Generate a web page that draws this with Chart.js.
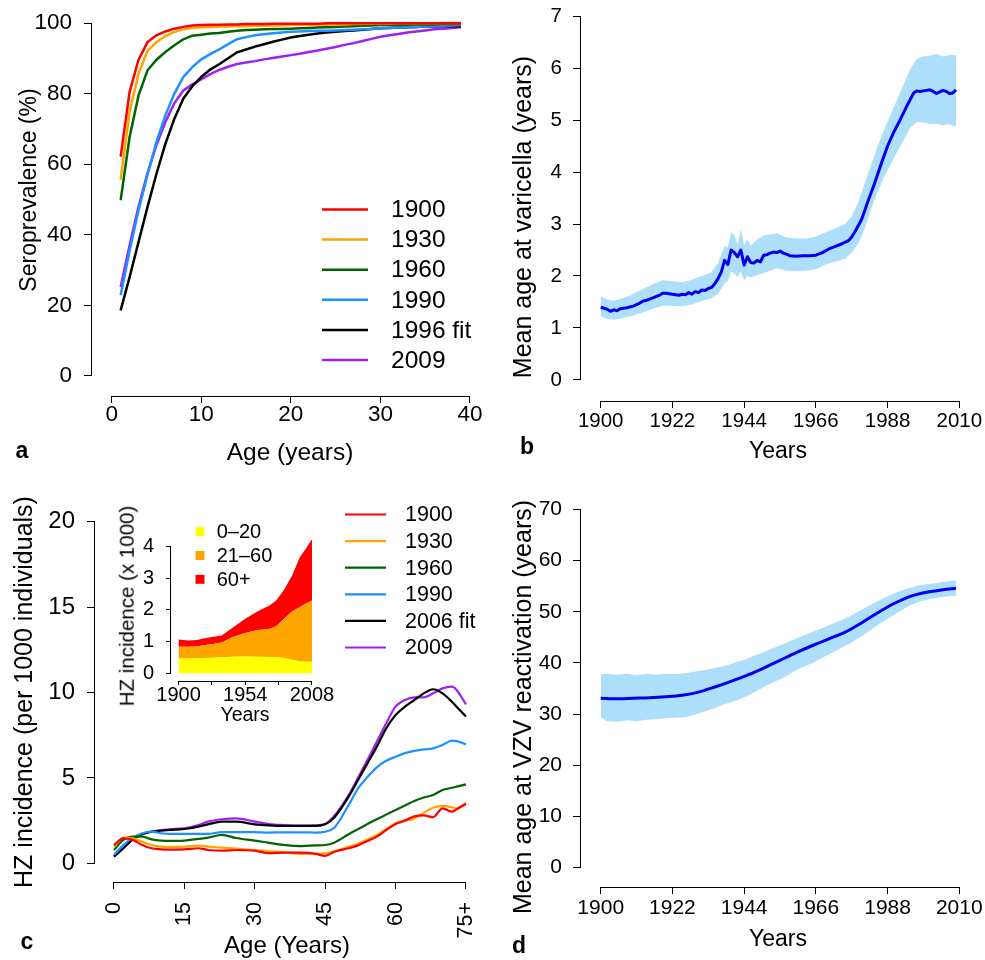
<!DOCTYPE html>
<html>
<head>
<meta charset="utf-8">
<title>Varicella and herpes zoster</title>
<script src="https://cdn.jsdelivr.net/npm/chart.js@4.4.1/dist/chart.umd.min.js"></script>
<style>
  body { margin: 0; background: #fff; }
  #fig { position: relative; width: 985px; height: 960px; font-family: "Liberation Sans", Arial, Helvetica, sans-serif; color: #000; overflow: hidden; }
  #fig canvas { position: absolute; }
  .lab { position: absolute; white-space: nowrap; line-height: 1; transform: translate(-50%, -50%); }
  .lab.up { transform: translate(-50%, -50%) rotate(-90deg); }
  .tag { font-weight: bold; }
</style>
</head>
<body>
<div id="fig">
  <canvas id="sero" width="495" height="470" style="left:0;top:0"></canvas>
  <canvas id="varAge" width="485" height="470" style="left:500px;top:0"></canvas>
  <canvas id="hz" width="495" height="480" style="left:0;top:480px"></canvas>
  <canvas id="hzTotal" width="245" height="225" style="left:100px;top:500px"></canvas>
  <canvas id="reactAge" width="485" height="480" style="left:500px;top:480px"></canvas>

  <div class="lab up" style="left:28px;top:190px;font-size:23px">Seroprevalence (%)</div>
  <div class="lab" style="left:290px;top:452px;font-size:24.5px">Age (years)</div>
  <div class="lab tag" style="left:22px;top:450px;font-size:23px">a</div>

  <div class="lab up" style="left:522px;top:217px;font-size:25px">Mean age at varicella (years)</div>
  <div class="lab" style="left:778px;top:450px;font-size:23px">Years</div>
  <div class="lab tag" style="left:527px;top:446px;font-size:23px">b</div>

  <div class="lab up" style="left:23px;top:692px;font-size:25px">HZ incidence (per 1000 individuals)</div>
  <div class="lab" style="left:287px;top:945px;font-size:24px">Age (Years)</div>
  <div class="lab tag" style="left:27px;top:941px;font-size:23px">c</div>
  <div class="lab up" style="left:127px;top:606px;font-size:20.5px">HZ incidence (x 1000)</div>
  <div class="lab" style="left:245px;top:715px;font-size:19.5px">Years</div>

  <div class="lab up" style="left:522px;top:707px;font-size:25px">Mean age at VZV reactivation (years)</div>
  <div class="lab" style="left:778px;top:938px;font-size:23px">Years</div>
  <div class="lab tag" style="left:519px;top:945px;font-size:23px">d</div>
</div>

<script>
// ---- a: seroprevalence by age ----
const seroAges = [1, 2, 3, 4, 5, 6, 7, 8, 9, 10, 11, 12, 13, 14, 15, 16, 17, 18, 19, 20,
  21, 22, 23, 24, 25, 26, 27, 28, 29, 30, 31, 32, 33, 34, 35, 36, 37, 38, 39];
const sero1900 = [62.1, 80.5, 89.6, 94.6, 96.5, 97.6, 98.4, 98.9, 99.3, 99.4,
  99.5, 99.5, 99.6, 99.6, 99.7, 99.7, 99.7, 99.8, 99.8, 99.8,
  99.8, 99.8, 99.8, 99.9, 99.9, 99.9, 99.9, 99.9, 99.9, 99.9,
  99.9, 99.9, 99.9, 99.9, 99.9, 99.9, 99.9, 99.9, 99.9];
const sero1930 = [55.6, 74.8, 85.7, 92.1, 94.6, 96.3, 97.5, 98.2, 98.6, 98.8,
  98.9, 99.0, 99.0, 99.1, 99.1, 99.2, 99.2, 99.3, 99.3, 99.4,
  99.4, 99.5, 99.5, 99.5, 99.6, 99.6, 99.7, 99.7, 99.8, 99.8,
  99.8, 99.9, 99.9, 99.9, 99.9, 99.9, 100, 100, 100];
const sero1960 = [49.8, 67.7, 79.5, 86.6, 89.6, 91.8, 93.7, 95.4, 96.4, 96.7,
  97.0, 97.2, 97.5, 97.8, 98.0, 98.1, 98.2, 98.3, 98.3, 98.4,
  98.5, 98.6, 98.7, 98.8, 98.9, 99.0, 99.1, 99.2, 99.3, 99.4,
  99.4, 99.5, 99.5, 99.6, 99.6, 99.6, 99.7, 99.7, 99.7];
const sero1990 = [22.9, 35.5, 47.0, 57.0, 66.3, 73.9, 80.0, 84.7, 87.5, 89.7,
  91.2, 92.5, 94.0, 95.4, 96.0, 96.5, 96.8, 97.1, 97.3, 97.5,
  97.6, 97.7, 97.8, 97.8, 97.9, 98.0, 98.1, 98.2, 98.3, 98.5,
  98.6, 98.7, 98.8, 98.9, 99.0, 99.1, 99.2, 99.3, 99.4];
const sero1996fit = [18.6, 28.0, 38.0, 47.9, 57.3, 65.8, 72.9, 78.6, 82.1, 84.7,
  86.8, 88.3, 90.0, 91.7, 92.5, 93.3, 94.0, 94.7, 95.3, 95.9,
  96.3, 96.7, 97.0, 97.3, 97.5, 97.7, 97.9, 98.1, 98.3, 98.5,
  98.6, 98.7, 98.8, 98.9, 99.0, 99.0, 99.1, 99.1, 99.1];
const sero2009 = [25.2, 37.0, 48.0, 57.5, 65.4, 72.0, 77.3, 80.9, 82.6, 84.0,
  85.5, 86.7, 87.6, 88.4, 88.8, 89.2, 89.7, 90.1, 90.5, 90.9,
  91.3, 91.8, 92.2, 92.7, 93.2, 93.8, 94.3, 94.9, 95.5, 96.1,
  96.5, 96.9, 97.3, 97.6, 97.9, 98.2, 98.4, 98.6, 98.8];
const seroTicksX = [0, 10, 20, 30, 40];
const seroTicksY = [0, 20, 40, 60, 80, 100];

// ---- b: mean age at varicella ----
const varYears = [1900, 1901, 1902, 1903, 1904, 1905, 1906, 1907, 1908, 1910, 1912, 1913, 1914, 1916,
  1918, 1919, 1920, 1922, 1924, 1925, 1926, 1927, 1928, 1929, 1930, 1931, 1932, 1933, 1934, 1935,
  1936, 1937, 1938, 1939, 1940, 1941, 1942, 1943, 1944, 1945, 1946, 1947, 1948, 1949, 1950, 1951,
  1952, 1953, 1954, 1955, 1956, 1957, 1958, 1960, 1962, 1964, 1966, 1968, 1970, 1972, 1974, 1976,
  1977, 1978, 1980, 1982, 1984, 1986, 1988, 1990, 1992, 1994, 1996, 1997, 1998, 1999, 2000, 2001,
  2002, 2003, 2004, 2005, 2006, 2007, 2008, 2009];
const varMean = [1.40, 1.38, 1.36, 1.32, 1.35, 1.33, 1.37, 1.38, 1.39, 1.42, 1.48, 1.52, 1.53, 1.58,
  1.63, 1.67, 1.67, 1.65, 1.63, 1.65, 1.64, 1.68, 1.65, 1.70, 1.68, 1.73, 1.72, 1.76, 1.78, 1.85,
  1.95, 2.08, 2.30, 2.22, 2.50, 2.45, 2.37, 2.50, 2.21, 2.37, 2.26, 2.25, 2.30, 2.27, 2.40, 2.41,
  2.44, 2.46, 2.45, 2.48, 2.44, 2.42, 2.39, 2.38, 2.39, 2.39, 2.40, 2.45, 2.52, 2.57, 2.62, 2.68,
  2.75, 2.85, 3.08, 3.44, 3.78, 4.15, 4.50, 4.78, 5.02, 5.28, 5.52, 5.56, 5.55, 5.56, 5.57, 5.58,
  5.55, 5.51, 5.54, 5.57, 5.55, 5.51, 5.52, 5.58];
const varBandYears = [1900, 1902, 1904, 1906, 1908, 1910, 1913, 1916, 1919, 1922, 1925, 1928, 1931,
  1934, 1936, 1938, 1939, 1940, 1941, 1942, 1943, 1944, 1945, 1946, 1948, 1950, 1952, 1954, 1957,
  1960, 1963, 1966, 1969, 1972, 1975, 1977, 1979, 1981, 1983, 1985, 1987, 1989, 1991, 1993, 1995,
  1997, 1999, 2001, 2003, 2005, 2007, 2009];
const varUpper = [1.60, 1.55, 1.52, 1.56, 1.60, 1.66, 1.75, 1.84, 1.92, 1.90, 1.88, 1.93, 2.00,
  2.07, 2.25, 2.58, 2.55, 2.85, 2.78, 2.60, 2.90, 2.60, 2.70, 2.58, 2.70, 2.78, 2.80, 2.82, 2.74,
  2.72, 2.72, 2.76, 2.84, 2.92, 3.00, 3.15, 3.42, 3.78, 4.15, 4.50, 4.82, 5.12, 5.40, 5.70, 5.98,
  6.18, 6.22, 6.24, 6.27, 6.22, 6.25, 6.25];
const varLower = [1.22, 1.18, 1.16, 1.18, 1.21, 1.24, 1.30, 1.37, 1.43, 1.43, 1.42, 1.45, 1.52,
  1.57, 1.66, 1.86, 1.90, 2.08, 2.05, 1.98, 2.08, 1.92, 2.00, 1.97, 2.02, 2.06, 2.10, 2.15, 2.10,
  2.09, 2.10, 2.13, 2.22, 2.28, 2.33, 2.45, 2.62, 2.92, 3.30, 3.62, 3.92, 4.15, 4.40, 4.62, 4.85,
  4.96, 4.95, 4.92, 4.93, 4.90, 4.92, 4.87];
const yearTicks = [1900, 1922, 1944, 1966, 1988, 2010];
const varTicksY = [0, 1, 2, 3, 4, 5, 6, 7];

// ---- c: HZ incidence by age ----
const hzAges = [0, 2, 4, 6, 8, 10, 12, 15, 18, 20, 23, 26, 30, 33, 36, 40, 43, 45, 47, 50,
  52, 54, 56, 58, 60, 62, 64, 66, 68, 70, 72, 73, 75];
const hz1900 = [1.07, 1.46, 1.37, 1.07, 0.88, 0.82, 0.80, 0.82, 0.88, 0.78, 0.74, 0.78, 0.74, 0.59,
  0.62, 0.62, 0.55, 0.43, 0.68, 0.88, 1.05, 1.30, 1.56, 1.95, 2.30, 2.50, 2.75, 2.80, 2.70, 3.22,
  3.02, 3.16, 3.47];
const hz1930 = [0.98, 1.50, 1.46, 1.27, 1.07, 0.98, 0.96, 0.98, 1.03, 0.98, 0.92, 0.86, 0.78, 0.72,
  0.66, 0.55, 0.57, 0.59, 0.70, 0.98, 1.15, 1.40, 1.66, 2.00, 2.34, 2.48, 2.62, 2.95, 3.25, 3.36,
  3.28, 3.22, 3.55];
const hz1960 = [0.78, 1.37, 1.56, 1.56, 1.40, 1.33, 1.31, 1.33, 1.43, 1.50, 1.66, 1.48, 1.33, 1.20,
  1.08, 1.01, 1.05, 1.07, 1.22, 1.70, 2.00, 2.30, 2.58, 2.85, 3.12, 3.38, 3.65, 3.85, 4.00, 4.29,
  4.42, 4.49, 4.62];
const hz1990 = [0.49, 1.07, 1.50, 1.76, 1.85, 1.76, 1.72, 1.72, 1.72, 1.72, 1.83, 1.83, 1.82, 1.80,
  1.81, 1.81, 1.80, 1.85, 2.10, 3.41, 4.39, 5.05, 5.62, 6.00, 6.24, 6.45, 6.58, 6.67, 6.73, 6.93,
  7.18, 7.15, 6.97];
const hz2006fit = [0.39, 0.88, 1.40, 1.70, 1.85, 1.91, 1.95, 2.01, 2.15, 2.28, 2.44, 2.44, 2.28, 2.22,
  2.19, 2.19, 2.19, 2.28, 2.70, 3.90, 4.88, 5.85, 6.83, 7.90, 8.68, 9.17, 9.56, 9.95, 10.19, 9.95,
  9.46, 9.17, 8.59];
const hz2009 = [0.39, 0.88, 1.40, 1.70, 1.85, 1.95, 2.00, 2.05, 2.24, 2.44, 2.58, 2.63, 2.44, 2.30,
  2.24, 2.20, 2.22, 2.30, 2.80, 4.00, 5.01, 6.05, 7.12, 8.20, 9.17, 9.56, 9.72, 9.72, 9.95, 10.24,
  10.34, 10.15, 9.31];
const hzTicksX = [0, 15, 30, 45, 60, 75];
const hzTickLabelsX = ['0', '15', '30', '45', '60', '75+'];
const hzTicksY = [0, 5, 10, 15, 20];

// ---- c inset: HZ cases by age group (stacked) ----
const totalYears = [1900, 1908, 1915, 1920, 1927, 1935, 1944, 1954, 1963, 1974, 1979, 1985, 1992, 1998, 2003, 2008];
const age0to20 = [0.46, 0.46, 0.47, 0.48, 0.49, 0.50, 0.52, 0.53, 0.52, 0.51, 0.51, 0.48, 0.42, 0.38, 0.36, 0.36];
const age21to60 = [0.37, 0.37, 0.37, 0.40, 0.42, 0.47, 0.62, 0.74, 0.83, 0.89, 0.97, 1.22, 1.53, 1.70, 1.84, 1.93];
const age60plus = [0.23, 0.20, 0.21, 0.21, 0.23, 0.22, 0.30, 0.45, 0.58, 0.74, 0.81, 0.91, 1.13, 1.57, 1.72, 1.94];
const totalTicksX = [1900, 1927, 1954, 1981, 2008];
const totalTickLabelsX = ['1900', '', '1954', '', '2008'];
const totalTicksY = [0, 1, 2, 3, 4];

// ---- d: mean age at VZV reactivation ----
const reactYears = [1900, 1905, 1910, 1915, 1920, 1925, 1930, 1935, 1940, 1945, 1950, 1955,
  1960, 1965, 1970, 1975, 1980, 1985, 1990, 1995, 2000, 2005, 2009];
const reactMean = [33.1, 33.0, 33.1, 33.2, 33.4, 33.7, 34.3, 35.3, 36.4, 37.6, 39.0, 40.5,
  42.0, 43.4, 44.7, 46.0, 47.8, 49.8, 51.6, 53.0, 53.8, 54.3, 54.6];
const reactBandYears = [1900, 1902, 1905, 1908, 1911, 1914, 1917, 1920, 1923, 1926, 1929, 1932,
  1935, 1938, 1941, 1944, 1947, 1950, 1953, 1956, 1959, 1962, 1965, 1968, 1971, 1974, 1977,
  1980, 1983, 1986, 1989, 1992, 1995, 1998, 2001, 2004, 2007, 2009];
const reactUpper = [37.8, 37.9, 37.7, 37.9, 37.6, 37.9, 37.7, 37.9, 37.8, 38.0, 38.3, 38.6,
  39.0, 39.4, 40.0, 40.6, 41.4, 42.1, 42.9, 43.7, 44.5, 45.3, 46.1, 46.8, 47.6, 48.4, 49.3,
  50.4, 51.4, 52.4, 53.3, 54.1, 54.7, 55.2, 55.4, 55.7, 56.0, 56.1];
const reactLower = [29.4, 28.6, 28.5, 28.8, 28.6, 28.9, 29.0, 29.2, 29.3, 29.4, 29.9, 30.5,
  31.2, 31.9, 32.5, 33.3, 34.2, 35.3, 36.2, 37.1, 38.2, 39.2, 40.0, 41.0, 42.0, 43.0, 44.0,
  45.2, 46.5, 47.8, 49.0, 50.2, 51.3, 52.0, 52.5, 52.8, 53.0, 53.1];
const reactTicksY = [0, 10, 20, 30, 40, 50, 60, 70];

const FONT = '"Liberation Sans", Arial, Helvetica, sans-serif';
const BAND = '#ADDFFA';
const MEAN = '#0000EE';

Chart.defaults.font.family = FONT;
Chart.defaults.color = '#000';
Chart.defaults.animation = false;
Chart.defaults.events = [];

const pts = (xs, ys) => xs.map((x, i) => ({ x, y: ys[i] }));

// axis line from the first tick to the last one, detached from the plot box
const axisLines = {
  id: 'axisLines',
  afterDraw(chart) {
    const { ctx, chartArea } = chart;
    ctx.save();
    ctx.strokeStyle = '#000';
    ctx.lineWidth = 1;
    Object.values(chart.scales).forEach(scale => {
      const t = scale.ticks;
      const a = Math.round(scale.getPixelForValue(t[0].value) - 0.5) + 0.5;
      const b = Math.round(scale.getPixelForValue(t[t.length - 1].value) - 0.5) + 0.5;
      ctx.beginPath();
      if (scale.isHorizontal()) {
        const y = Math.round(chartArea.bottom) + 0.5;
        ctx.moveTo(a - 0.5, y);
        ctx.lineTo(b + 0.5, y);
      } else {
        const x = Math.round(chartArea.left) + 0.5;
        ctx.moveTo(x, a + 0.5);
        ctx.lineTo(x, b - 0.5);
      }
      ctx.stroke();
    });
    ctx.restore();
  }
};

// legend placed freely inside the panel
const key = {
  id: 'key',
  afterDraw(chart, args, opts) {
    if (!opts || !opts.x) return;
    const ctx = chart.ctx;
    ctx.save();
    ctx.font = opts.size + 'px ' + FONT;
    ctx.textBaseline = 'middle';
    ctx.textAlign = 'left';
    ctx.fillStyle = '#000';
    let row = 0;
    chart.data.datasets.forEach(ds => {
      if (!ds.label) return;
      const y = opts.y + row * opts.step;
      if (opts.square) {
        ctx.fillStyle = ds.backgroundColor;
        ctx.fillRect(opts.x - opts.square / 2, y - opts.square / 2, opts.square, opts.square);
      } else {
        ctx.strokeStyle = ds.borderColor;
        ctx.lineWidth = ds.borderWidth;
        ctx.beginPath();
        ctx.moveTo(opts.x, y);
        ctx.lineTo(opts.x + opts.len, y);
        ctx.stroke();
      }
      ctx.fillStyle = '#000';
      ctx.fillText(ds.label, opts.textX, y + 1);
      row++;
    });
    ctx.restore();
  }
};

function axis(o) {
  return {
    type: 'linear',
    min: o.min,
    max: o.max,
    stacked: !!o.stacked,
    afterBuildTicks: s => { s.ticks = o.ticks.map(v => ({ value: v })); },
    afterFit: s => {
      if (s.isHorizontal()) {
        s.height = o.box;
        s.paddingLeft = s.paddingRight = 0;
      } else {
        s.width = o.box;
        s.paddingTop = s.paddingBottom = 0;
      }
    },
    ticks: {
      autoSkip: false,
      maxRotation: o.rot || 0,
      minRotation: o.rot || 0,
      padding: o.pad,
      color: '#000',
      font: { size: o.size, lineHeight: 1 },
      callback: (v, i) => o.labels ? o.labels[i] : String(v)
    },
    grid: { drawOnChartArea: false, drawTicks: true, tickLength: o.tick || 7, color: '#000', lineWidth: 1 },
    border: { display: false }
  };
}

function baseOptions(pad, x, y, keyOpts) {
  return {
    responsive: false,
    devicePixelRatio: 1,
    layout: { padding: pad },
    elements: { point: { radius: 0 } },
    plugins: { legend: { display: false }, tooltip: { enabled: false }, key: keyOpts || {} },
    scales: { x, y }
  };
}

function curve(label, xs, ys, color, width, smooth) {
  return {
    label, data: pts(xs, ys), borderColor: color, borderWidth: width,
    tension: 0, cubicInterpolationMode: smooth ? 'monotone' : 'default', fill: false
  };
}

// a
new Chart(document.getElementById('sero'), {
  type: 'line',
  data: {
    datasets: [
      curve('1900', seroAges, sero1900, '#FF0000', 2.5),
      curve('1930', seroAges, sero1930, '#FFA500', 2.5),
      curve('1960', seroAges, sero1960, '#006400', 2.5),
      curve('1990', seroAges, sero1990, '#1E90FF', 2.5),
      curve('1996 fit', seroAges, sero1996fit, '#000000', 2.5),
      curve('2009', seroAges, sero2009, '#A020F0', 2.5)
    ]
  },
  options: baseOptions({ top: 8, right: 3, bottom: 0, left: 0 },
    axis({ min: -2.31, max: 42.46, ticks: seroTicksX, box: 74, size: 22.5, pad: 1 }),
    axis({ min: -5.67, max: 104.25, ticks: seroTicksY, box: 91, size: 22.5, pad: 12 }),
    { x: 322, y: 209.5, step: 30.1, len: 46, textX: 391, size: 24.5 }),
  plugins: [axisLines, key]
});

// b
new Chart(document.getElementById('varAge'), {
  type: 'line',
  data: {
    datasets: [
      { data: pts(varYears, varMean), borderColor: MEAN, borderWidth: 3, tension: 0, fill: false, borderJoinStyle: 'round' },
      { data: pts(varBandYears, varUpper), borderWidth: 0, borderColor: 'transparent', fill: false },
      { data: pts(varBandYears, varLower), borderWidth: 0, borderColor: 'transparent', backgroundColor: BAND, fill: '-1' }
    ]
  },
  options: baseOptions({ top: 4, right: 10, bottom: 0, left: 0 },
    axis({ min: 1893.65, max: 2014.82, ticks: yearTicks, box: 69, size: 20.5, pad: 3 }),
    axis({ min: -0.404, max: 7.231, ticks: varTicksY, box: 80, size: 20.5, pad: 11 })),
  plugins: [axisLines]
});

// c
new Chart(document.getElementById('hz'), {
  type: 'line',
  data: {
    datasets: [
      curve('1900', hzAges, hz1900, '#FF0000', 2.2, true),
      curve('1930', hzAges, hz1930, '#FFA500', 2.2, true),
      curve('1960', hzAges, hz1960, '#006400', 2.2, true),
      curve('1990', hzAges, hz1990, '#1E90FF', 2.2, true),
      curve('2006 fit', hzAges, hz2006fit, '#000000', 2.2, true),
      curve('2009', hzAges, hz2009, '#A020F0', 2.2, true)
    ]
  },
  options: baseOptions({ top: 10, right: 7, bottom: 0, left: 0 },
    axis({ min: -4.261, max: 79.69, ticks: hzTicksX, labels: hzTickLabelsX, box: 78, size: 21.5, pad: 13, rot: 90 }),
    axis({ min: -1.095, max: 21.856, ticks: hzTicksY, box: 94, size: 24, pad: 12 }),
    { x: 345, y: 34.5, step: 26.6, len: 41, textX: 405, size: 21.5 }),
  plugins: [axisLines, key]
});

// c inset
new Chart(document.getElementById('hzTotal'), {
  type: 'line',
  data: {
    datasets: [
      { label: '0\u201320', data: pts(totalYears, age0to20), borderWidth: 0, borderColor: 'transparent', backgroundColor: '#FFFF00', fill: 'origin' },
      { label: '21\u201360', data: pts(totalYears, age21to60), borderWidth: 0, borderColor: 'transparent', backgroundColor: '#FFA500', fill: '-1' },
      { label: '60+', data: pts(totalYears, age60plus), borderWidth: 0, borderColor: 'transparent', backgroundColor: '#FF0000', fill: '-1' }
    ]
  },
  options: baseOptions({ top: 40, right: 29, bottom: 0, left: 0 },
    axis({ min: 1893.12, max: 2011.24, ticks: totalTicksX, labels: totalTickLabelsX, box: 44, size: 20, pad: 0, tick: 4 }),
    axis({ min: -0.246, max: 4.199, ticks: totalTicksY, box: 70, size: 20, pad: 12, tick: 4, stacked: true }),
    { x: 100, y: 31.7, step: 23.8, square: 9, textX: 116.7, size: 20 }),
  plugins: [axisLines, key]
});

// d
new Chart(document.getElementById('reactAge'), {
  type: 'line',
  data: {
    datasets: [
      { data: pts(reactYears, reactMean), borderColor: MEAN, borderWidth: 3, tension: 0.3, cubicInterpolationMode: 'monotone', fill: false },
      { data: pts(reactBandYears, reactUpper), borderWidth: 0, borderColor: 'transparent', fill: false },
      { data: pts(reactBandYears, reactLower), borderWidth: 0, borderColor: 'transparent', backgroundColor: BAND, fill: '-1' }
    ]
  },
  options: baseOptions({ top: 14, right: 10, bottom: 0, left: 0 },
    axis({ min: 1893.65, max: 2014.82, ticks: yearTicks, box: 73, size: 21, pad: 4 }),
    axis({ min: -3.77, max: 72.99, ticks: reactTicksY, box: 80, size: 21, pad: 11 })),
  plugins: [axisLines]
});
</script>
</body>
</html>
